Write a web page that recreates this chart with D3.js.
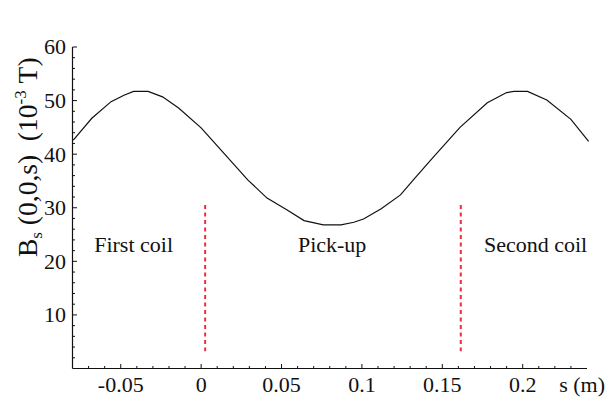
<!DOCTYPE html>
<html>
<head>
<meta charset="utf-8">
<script src="https://cdn.jsdelivr.net/npm/d3@7"></script>
<style>
  html, body { margin: 0; padding: 0; background: #fff; }
  svg text { font-family: "Liberation Serif", "DejaVu Serif", serif; fill: #111; }
</style>
</head>
<body>
<svg id="chart" width="608" height="400"></svg>
<script>
// On-axis field of the coil pair, B_s(0,0,s) in units of 1e-3 T
const sValues = [-0.0795, -0.068, -0.056, -0.048, -0.042, -0.033, -0.024, -0.014, 0.0, 0.006,
                 0.029, 0.041, 0.0535, 0.064, 0.076, 0.087, 0.095, 0.101, 0.112, 0.124,
                 0.132, 0.144, 0.161, 0.178, 0.190, 0.1945, 0.203, 0.215, 0.230, 0.241];
const bValues = [42.6, 46.7, 49.8, 51.0, 51.7, 51.7, 50.7, 48.6, 44.9, 42.9,
                 35.2, 31.8, 29.6, 27.6, 26.8, 26.8, 27.3, 27.9, 29.8, 32.4,
                 35.2, 39.3, 45.0, 49.6, 51.5, 51.7, 51.7, 50.1, 46.5, 42.4];

// Region boundaries between the coils and the pick-up
const boundaryS = [0.0025, 0.1615];
const boundaryRange = [3.2, 30.5];

// Region labels
const regionLabels = ["First coil", "Pick-up", "Second coil"];
const regionLabelS = [-0.042, 0.0815, 0.208];
const regionLabelB = [21.7];

// Tick marks
const xMajorTicks = [-0.05, 0, 0.05, 0.1, 0.15, 0.2];
const xTickLabels = ["-0.05", "0", "0.05", "0.1", "0.15", "0.2"];
const yMajorTicks = [10, 20, 30, 40, 50, 60];
const yTickLabels = ["10", "20", "30", "40", "50", "60"];

const svg = d3.select("#chart");
const x = d3.scaleLinear().domain([-0.08, 0.24]).range([72.5, 587]);
const y = d3.scaleLinear().domain([0, 60]).range([368.5, 47]);

const axisColor = "#111";
const fontSize = 22;

// Minor ticks
const xMinor = d3.range(-7, 24).map(d => d / 100).filter(v => !xMajorTicks.some(m => Math.abs(m - v) < 1e-9));
const yMinor = d3.range(2, 60, 2).filter(v => v % 10 !== 0);

const g = svg.append("g");

// x axis with inward ticks
g.append("line").attr("x1", x.range()[0]).attr("x2", x.range()[1])
  .attr("y1", y(0)).attr("y2", y(0)).attr("stroke", axisColor).attr("stroke-width", 1.2);
g.selectAll(".xminor").data(xMinor).join("line")
  .attr("x1", d => x(d)).attr("x2", d => x(d))
  .attr("y1", y(0)).attr("y2", y(0) - 2.5).attr("stroke", axisColor).attr("stroke-width", 1);
g.selectAll(".xmajor").data(xMajorTicks).join("line")
  .attr("x1", d => x(d)).attr("x2", d => x(d))
  .attr("y1", y(0)).attr("y2", y(0) - 4.5).attr("stroke", axisColor).attr("stroke-width", 1);
g.selectAll(".xlab").data(xMajorTicks).join("text")
  .attr("x", d => x(d)).attr("y", 392)
  .attr("text-anchor", "middle").attr("font-size", fontSize)
  .text((d, i) => xTickLabels[i]);
g.append("text").attr("x", 605).attr("y", 392).attr("text-anchor", "end")
  .attr("font-size", fontSize).text("s (m)");

// y axis with inward ticks
g.append("line").attr("x1", x.range()[0]).attr("x2", x.range()[0])
  .attr("y1", y(0)).attr("y2", y(60)).attr("stroke", axisColor).attr("stroke-width", 1.2);
g.selectAll(".yminor").data(yMinor).join("line")
  .attr("x1", x.range()[0]).attr("x2", x.range()[0] + 2.5)
  .attr("y1", d => y(d)).attr("y2", d => y(d)).attr("stroke", axisColor).attr("stroke-width", 1);
g.selectAll(".ymajor").data(yMajorTicks).join("line")
  .attr("x1", x.range()[0]).attr("x2", x.range()[0] + 4.5)
  .attr("y1", d => y(d)).attr("y2", d => y(d)).attr("stroke", axisColor).attr("stroke-width", 1);
g.selectAll(".ylab").data(yMajorTicks).join("text")
  .attr("x", 66).attr("y", d => y(d)).attr("dy", "0.34em")
  .attr("text-anchor", "end").attr("font-size", fontSize)
  .text((d, i) => yTickLabels[i]);

// y axis title
const yt = svg.append("text")
  .attr("transform", "translate(37,257) rotate(-90)")
  .attr("font-size", 27.5);
yt.append("tspan").text("B");
yt.append("tspan").attr("font-size", 17).attr("dy", 5).text("s");
yt.append("tspan").attr("dy", -5).text("\u00a0(0,0,s)\u00a0\u00a0(10");
yt.append("tspan").attr("font-size", 17).attr("dy", -11).text("-3");
yt.append("tspan").attr("dy", 11).text("\u00a0T)");

// boundary markers
svg.selectAll(".boundary").data(boundaryS).join("line")
  .attr("x1", d => x(d)).attr("x2", d => x(d))
  .attr("y1", y(boundaryRange[1])).attr("y2", y(boundaryRange[0]))
  .attr("stroke", "#e8313c").attr("stroke-width", 2)
  .attr("stroke-dasharray", "4,3.5");

// field curve
const line = d3.line().x((d, i) => x(sValues[i])).y(d => y(d));
svg.append("path").datum(bValues)
  .attr("d", line).attr("fill", "none")
  .attr("stroke", "#111").attr("stroke-width", 1.2);

// region labels
svg.selectAll(".region").data(regionLabels).join("text")
  .attr("x", (d, i) => x(regionLabelS[i])).attr("y", y(regionLabelB[0]))
  .attr("text-anchor", "middle").attr("font-size", fontSize)
  .text(d => d);
</script>
</body>
</html>
